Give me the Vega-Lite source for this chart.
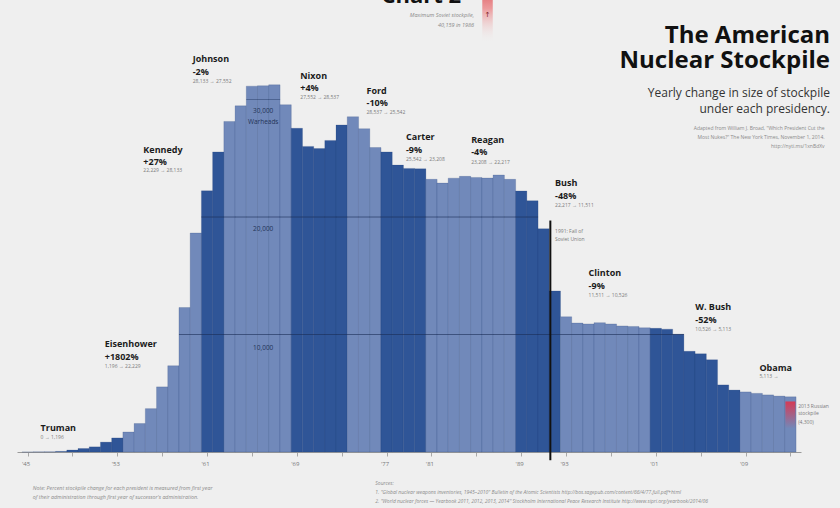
{
  "$schema": "https://vega.github.io/schema/vega-lite/v6.json",
  "width": 784,
  "height": 452,
  "autosize": {"type": "none"},
  "padding": {"left": 17, "top": 0, "right": 39, "bottom": 56},
  "background": "#efefef",
  "config": {"view": {"stroke": null}, "font": "Open Sans"},
  "title": {
    "text": ["The American", "Nuclear Stockpile"],
    "subtitle": ["Yearly change in size of stockpile", "under each presidency."],
    "anchor": "end",
    "frame": "group",
    "orient": "top",
    "align": "right",
    "dx": 29,
    "dy": 135,
    "offset": 0,
    "font": "Open Sans",
    "fontSize": 24,
    "fontWeight": "bold",
    "color": "#111111",
    "lineHeight": 25,
    "subtitleFont": "Open Sans",
    "subtitleFontSize": 12,
    "subtitleColor": "#333333",
    "subtitleLineHeight": 16,
    "subtitlePadding": 15
  },
  "datasets": {
    "stock": [
      {"year": 1945, "president": "Truman", "value": 2},
      {"year": 1946, "president": "Truman", "value": 9},
      {"year": 1947, "president": "Truman", "value": 13},
      {"year": 1948, "president": "Truman", "value": 50},
      {"year": 1949, "president": "Truman", "value": 170},
      {"year": 1950, "president": "Truman", "value": 299},
      {"year": 1951, "president": "Truman", "value": 438},
      {"year": 1952, "president": "Truman", "value": 841},
      {"year": 1953, "president": "Truman", "value": 1196},
      {"year": 1954, "president": "Eisenhower", "value": 1703},
      {"year": 1955, "president": "Eisenhower", "value": 2422},
      {"year": 1956, "president": "Eisenhower", "value": 3692},
      {"year": 1957, "president": "Eisenhower", "value": 5543},
      {"year": 1958, "president": "Eisenhower", "value": 7345},
      {"year": 1959, "president": "Eisenhower", "value": 12298},
      {"year": 1960, "president": "Eisenhower", "value": 18638},
      {"year": 1961, "president": "Kennedy", "value": 22229},
      {"year": 1962, "president": "Kennedy", "value": 25540},
      {"year": 1963, "president": "Johnson", "value": 28133},
      {"year": 1964, "president": "Johnson", "value": 29463},
      {"year": 1965, "president": "Johnson", "value": 31139},
      {"year": 1966, "president": "Johnson", "value": 31175},
      {"year": 1967, "president": "Johnson", "value": 31255},
      {"year": 1968, "president": "Johnson", "value": 29561},
      {"year": 1969, "president": "Nixon", "value": 27552},
      {"year": 1970, "president": "Nixon", "value": 26008},
      {"year": 1971, "president": "Nixon", "value": 25830},
      {"year": 1972, "president": "Nixon", "value": 26516},
      {"year": 1973, "president": "Nixon", "value": 27835},
      {"year": 1974, "president": "Ford", "value": 28537},
      {"year": 1975, "president": "Ford", "value": 27519},
      {"year": 1976, "president": "Ford", "value": 25914},
      {"year": 1977, "president": "Carter", "value": 25542},
      {"year": 1978, "president": "Carter", "value": 24418},
      {"year": 1979, "president": "Carter", "value": 24138},
      {"year": 1980, "president": "Carter", "value": 24104},
      {"year": 1981, "president": "Reagan", "value": 23208},
      {"year": 1982, "president": "Reagan", "value": 22886},
      {"year": 1983, "president": "Reagan", "value": 23305},
      {"year": 1984, "president": "Reagan", "value": 23459},
      {"year": 1985, "president": "Reagan", "value": 23368},
      {"year": 1986, "president": "Reagan", "value": 23317},
      {"year": 1987, "president": "Reagan", "value": 23575},
      {"year": 1988, "president": "Reagan", "value": 23205},
      {"year": 1989, "president": "Bush", "value": 22217},
      {"year": 1990, "president": "Bush", "value": 21392},
      {"year": 1991, "president": "Bush", "value": 19008},
      {"year": 1992, "president": "Bush", "value": 13708},
      {"year": 1993, "president": "Clinton", "value": 11511},
      {"year": 1994, "president": "Clinton", "value": 10979},
      {"year": 1995, "president": "Clinton", "value": 10904},
      {"year": 1996, "president": "Clinton", "value": 11011},
      {"year": 1997, "president": "Clinton", "value": 10903},
      {"year": 1998, "president": "Clinton", "value": 10732},
      {"year": 1999, "president": "Clinton", "value": 10685},
      {"year": 2000, "president": "Clinton", "value": 10577},
      {"year": 2001, "president": "W. Bush", "value": 10526},
      {"year": 2002, "president": "W. Bush", "value": 10457},
      {"year": 2003, "president": "W. Bush", "value": 10027},
      {"year": 2004, "president": "W. Bush", "value": 8570},
      {"year": 2005, "president": "W. Bush", "value": 8360},
      {"year": 2006, "president": "W. Bush", "value": 7853},
      {"year": 2007, "president": "W. Bush", "value": 5709},
      {"year": 2008, "president": "W. Bush", "value": 5273},
      {"year": 2009, "president": "Obama", "value": 5113},
      {"year": 2010, "president": "Obama", "value": 4990},
      {"year": 2011, "president": "Obama", "value": 4860},
      {"year": 2012, "president": "Obama", "value": 4760},
      {"year": 2013, "president": "Obama", "value": 4700}
    ],
    "extra": [
      {"kind": "soviet", "year": 1986, "value": 40159},
      {"kind": "russia", "year": 2013, "value": 4300}
    ],
    "notes": [
      {"kind": "name", "text": "Truman", "year": 1946.16, "level": 2043},
      {"kind": "range", "text": "0 → 1,196", "year": 1946.16, "level": 1277},
      {"kind": "name", "text": "Eisenhower", "year": 1951.88, "level": 9191},
      {"kind": "name", "text": "+1802%", "year": 1951.88, "level": 8085},
      {"kind": "range", "text": "1,196 → 22,229", "year": 1951.88, "level": 7319},
      {"kind": "name", "text": "Kennedy", "year": 1955.32, "level": 25745},
      {"kind": "name", "text": "+27%", "year": 1955.32, "level": 24723},
      {"kind": "range", "text": "22,229 → 28,133", "year": 1955.32, "level": 23960},
      {"kind": "name", "text": "Johnson", "year": 1959.72, "level": 33447},
      {"kind": "name", "text": "-2%", "year": 1959.72, "level": 32340},
      {"kind": "range", "text": "28,133 → 27,552", "year": 1959.72, "level": 31574},
      {"kind": "name", "text": "Nixon", "year": 1969.31, "level": 32043},
      {"kind": "name", "text": "+4%", "year": 1969.31, "level": 31021},
      {"kind": "range", "text": "27,552 → 28,537", "year": 1969.31, "level": 30213},
      {"kind": "name", "text": "Ford", "year": 1975.21, "level": 30723},
      {"kind": "name", "text": "-10%", "year": 1975.21, "level": 29702},
      {"kind": "range", "text": "28,537 → 25,542", "year": 1975.21, "level": 28936},
      {"kind": "name", "text": "Carter", "year": 1978.73, "level": 26809},
      {"kind": "name", "text": "-9%", "year": 1978.73, "level": 25702},
      {"kind": "range", "text": "25,542 → 23,208", "year": 1978.73, "level": 24936},
      {"kind": "name", "text": "Reagan", "year": 1984.54, "level": 26553},
      {"kind": "name", "text": "-4%", "year": 1984.54, "level": 25532},
      {"kind": "range", "text": "23,208 → 22,217", "year": 1984.54, "level": 24681},
      {"kind": "name", "text": "Bush", "year": 1992.02, "level": 22894},
      {"kind": "name", "text": "-48%", "year": 1992.02, "level": 21787},
      {"kind": "range", "text": "22,217 → 11,511", "year": 1992.02, "level": 21021},
      {"kind": "range", "text": "1991: Fall of", "year": 1992.02, "level": 18809},
      {"kind": "range", "text": "Soviet Union", "year": 1992.02, "level": 18128},
      {"kind": "name", "text": "Clinton", "year": 1995.01, "level": 15234},
      {"kind": "name", "text": "-9%", "year": 1995.01, "level": 14128},
      {"kind": "range", "text": "11,511 → 10,526", "year": 1995.01, "level": 13362},
      {"kind": "name", "text": "W. Bush", "year": 2004.52, "level": 12340},
      {"kind": "name", "text": "-52%", "year": 2004.52, "level": 11234},
      {"kind": "range", "text": "10,526 → 5,113", "year": 2004.52, "level": 10468},
      {"kind": "name", "text": "Obama", "year": 2010.24, "level": 7149},
      {"kind": "range", "text": "5,113 →", "year": 2010.24, "level": 6468},
      {"kind": "range", "text": "2013 Russian", "year": 2013.69, "level": 3915},
      {"kind": "range", "text": "stockpile", "year": 2013.69, "level": 3319},
      {"kind": "range", "text": "(4,300)", "year": 2013.69, "level": 2553},
      {"kind": "grid", "text": "30,000", "year": 1966, "level": 29021},
      {"kind": "grid", "text": "Warheads", "year": 1966, "level": 28100},
      {"kind": "grid", "text": "20,000", "year": 1966, "level": 18979},
      {"kind": "grid", "text": "10,000", "year": 1966, "level": 8851},
      {"kind": "soviettext", "text": "Maximum Soviet stockpile,", "year": 1984.8, "level": 37191},
      {"kind": "soviettext", "text": "40,159 in 1986", "year": 1984.8, "level": 36340},
      {"kind": "arrow", "text": "↑", "year": 1986, "level": 37191},
      {"kind": "chart", "text": "Chart 2", "year": 1980.1, "level": 38213},
      {"kind": "credit", "text": "Adapted from William J. Broad, \"Which President Cut the", "year": 2016.05, "level": 27574},
      {"kind": "credit", "text": "Most Nukes?\" The New York Times, November 1, 2014.", "year": 2016.05, "level": 26809},
      {"kind": "credit", "text": "http://nyti.ms/1xnBdXv", "year": 2016.05, "level": 26043},
      {"kind": "note", "text": "Note: Percent stockpile change for each president is measured from first year", "year": 1945.46, "level": -3064},
      {"kind": "note", "text": "of their administration through first year of successor's administration.", "year": 1945.46, "level": -3830},
      {"kind": "source", "text": "Sources:", "year": 1976.0, "level": -2638},
      {"kind": "source", "text": "1.   \"Global nuclear weapons inventories, 1945–2010\" Bulletin of the Atomic Scientists http://bos.sagepub.com/content/66/4/77.full.pdf+html", "year": 1976.0, "level": -3404},
      {"kind": "source", "text": "2.   \"World nuclear forces — Yearbook 2011, 2012, 2013, 2014\" Stockholm International Peace Research Institute http://www.sipri.org/yearbook/2014/06", "year": 1976.0, "level": -4170}
    ]
  },
  "layer": [
    {
      "data": {"name": "stock"},
      "mark": {"type": "bar", "width": 11.37, "stroke": "#1c3a70", "strokeWidth": 0.6, "strokeOpacity": 0.3},
      "encoding": {
        "x": {
          "field": "year",
          "type": "quantitative",
          "scale": {"domain": [1944.5, 2013.5], "nice": false, "zero": false},
          "axis": {
            "title": null,
            "grid": false,
            "values": [1945,1946,1947,1948,1949,1950,1951,1952,1953,1954,1955,1956,1957,1958,1959,1960,1961,1962,1963,1964,1965,1966,1967,1968,1969,1970,1971,1972,1973,1974,1975,1976,1977,1978,1979,1980,1981,1982,1983,1984,1985,1986,1987,1988,1989,1990,1991,1992,1993,1994,1995,1996,1997,1998,1999,2000,2001,2002,2003,2004,2005,2006,2007,2008,2009,2010,2011,2012,2013],
            "labelExpr": "indexof([1945,1953,1961,1963,1969,1974,1977,1981,1989,1993,2001,2009], datum.value) >= 0 ? \"'\" + slice(toString(datum.value), 2) : ''",
            "labelOverlap": false,
            "labelFlush": false,
            "labelOffset": -2,
            "labelFontSize": 6,
            "labelColor": "#777777",
            "labelPadding": 4,
            "domainColor": "#9a9a9a",
            "tickColor": "#a8a8a8",
            "tickSize": 4
          }
        },
        "y": {
          "field": "value",
          "type": "quantitative",
          "scale": {"domain": [0, 38470], "nice": false},
          "axis": null
        },
        "color": {
          "field": "president",
          "type": "nominal",
          "scale": {
            "domain": ["Truman","Eisenhower","Kennedy","Johnson","Nixon","Ford","Carter","Reagan","Bush","Clinton","W. Bush","Obama"],
            "range": ["#2f5597","#7189ba","#2f5597","#7189ba","#2f5597","#7189ba","#2f5597","#7189ba","#2f5597","#7189ba","#2f5597","#7189ba"]
          },
          "legend": null
        }
      }
    },
    {
      "data": {"name": "stock"},
      "transform": [{"filter": "datum.value >= 10000"}],
      "mark": {"type": "tick", "orient": "horizontal", "size": 11.4, "thickness": 1, "color": "#1a2d57", "opacity": 0.6},
      "encoding": {
        "x": {"field": "year", "type": "quantitative"},
        "y": {"datum": 10000}
      }
    },
    {
      "data": {"name": "stock"},
      "transform": [{"filter": "datum.value >= 20000"}],
      "mark": {"type": "tick", "orient": "horizontal", "size": 11.4, "thickness": 1, "color": "#1a2d57", "opacity": 0.6},
      "encoding": {
        "x": {"field": "year", "type": "quantitative"},
        "y": {"datum": 20000}
      }
    },
    {
      "data": {"name": "stock"},
      "transform": [{"filter": "datum.value >= 30000"}],
      "mark": {"type": "tick", "orient": "horizontal", "size": 11.4, "thickness": 1, "color": "#1a2d57", "opacity": 0.4},
      "encoding": {
        "x": {"field": "year", "type": "quantitative"},
        "y": {"datum": 30000}
      }
    },
    {
      "data": {"name": "extra"},
      "transform": [{"filter": "datum.kind === 'soviet'"}],
      "mark": {
        "type": "bar",
        "width": 10.5,
        "color": {"gradient": "linear", "x1": 0, "y1": 0, "x2": 0, "y2": 1, "stops": [{"offset": 0, "color": "#d9484f"}, {"offset": 0.45, "color": "#ec9a9c"}, {"offset": 1, "color": "rgba(239,239,239,0)"}]}
      },
      "encoding": {
        "x": {"field": "year", "type": "quantitative"},
        "y": {"field": "value", "type": "quantitative"},
        "y2": {"datum": 34800}
      }
    },
    {
      "data": {"name": "extra"},
      "transform": [{"filter": "datum.kind === 'russia'"}],
      "mark": {
        "type": "bar",
        "width": 10,
        "color": {"gradient": "linear", "x1": 0, "y1": 0, "x2": 0, "y2": 1, "stops": [{"offset": 0, "color": "#d63a55"}, {"offset": 1, "color": "rgba(214,58,85,0)"}]}
      },
      "encoding": {
        "x": {"field": "year", "type": "quantitative"},
        "y": {"field": "value", "type": "quantitative"},
        "y2": {"datum": 2000}
      }
    },
    {
      "data": {"values": [{"event": "1991: Fall of Soviet Union", "year": 1991.6}]},
      "mark": {"type": "rule", "color": "#111111", "strokeWidth": 2},
      "encoding": {
        "x": {"field": "year", "type": "quantitative"},
        "y": {"datum": 19700},
        "y2": {"datum": -700}
      }
    },
    {
      "data": {"name": "notes"},
      "transform": [{"filter": "datum.kind === 'name'"}],
      "mark": {"type": "text", "align": "left", "baseline": "middle", "font": "Open Sans", "fontSize": 9, "fontWeight": "bold", "color": "#1b1b1b"},
      "encoding": {
        "x": {"field": "year", "type": "quantitative"},
        "y": {"field": "level", "type": "quantitative"},
        "text": {"field": "text"}
      }
    },
    {
      "data": {"name": "notes"},
      "transform": [{"filter": "datum.kind === 'range'"}],
      "mark": {"type": "text", "align": "left", "baseline": "middle", "font": "Open Sans", "fontSize": 5, "color": "#7a7a7a"},
      "encoding": {
        "x": {"field": "year", "type": "quantitative"},
        "y": {"field": "level", "type": "quantitative"},
        "text": {"field": "text"}
      }
    },
    {
      "data": {"name": "notes"},
      "transform": [{"filter": "datum.kind === 'grid'"}],
      "mark": {"type": "text", "align": "center", "baseline": "middle", "font": "Open Sans", "fontSize": 6.5, "color": "#243457"},
      "encoding": {
        "x": {"field": "year", "type": "quantitative"},
        "y": {"field": "level", "type": "quantitative"},
        "text": {"field": "text"}
      }
    },
    {
      "data": {"name": "notes"},
      "transform": [{"filter": "datum.kind === 'soviettext'"}],
      "mark": {"type": "text", "align": "right", "baseline": "middle", "font": "Open Sans", "fontSize": 5.5, "fontStyle": "italic", "color": "#8a8a8a"},
      "encoding": {
        "x": {"field": "year", "type": "quantitative"},
        "y": {"field": "level", "type": "quantitative"},
        "text": {"field": "text"}
      }
    },
    {
      "data": {"name": "notes"},
      "transform": [{"filter": "datum.kind === 'arrow'"}],
      "mark": {"type": "text", "align": "center", "baseline": "middle", "font": "DejaVu Sans", "fontSize": 7, "color": "#7a1a1a"},
      "encoding": {
        "x": {"field": "year", "type": "quantitative"},
        "y": {"field": "level", "type": "quantitative"},
        "text": {"field": "text"}
      }
    },
    {
      "data": {"name": "notes"},
      "transform": [{"filter": "datum.kind === 'chart'"}],
      "mark": {"type": "text", "align": "center", "baseline": "alphabetic", "font": "Open Sans", "fontSize": 22, "fontWeight": "bold", "color": "#111111"},
      "encoding": {
        "x": {"field": "year", "type": "quantitative"},
        "y": {"field": "level", "type": "quantitative"},
        "text": {"field": "text"}
      }
    },
    {
      "data": {"name": "notes"},
      "transform": [{"filter": "datum.kind === 'credit'"}],
      "mark": {"type": "text", "align": "right", "baseline": "middle", "font": "Open Sans", "fontSize": 5, "color": "#8a8a8a"},
      "encoding": {
        "x": {"field": "year", "type": "quantitative"},
        "y": {"field": "level", "type": "quantitative"},
        "text": {"field": "text"}
      }
    },
    {
      "data": {"name": "notes"},
      "transform": [{"filter": "datum.kind === 'note'"}],
      "mark": {"type": "text", "align": "left", "baseline": "middle", "font": "Open Sans", "fontSize": 5.3, "fontStyle": "italic", "color": "#8a8a8a"},
      "encoding": {
        "x": {"field": "year", "type": "quantitative"},
        "y": {"field": "level", "type": "quantitative"},
        "text": {"field": "text"}
      }
    },
    {
      "data": {"name": "notes"},
      "transform": [{"filter": "datum.kind === 'source'"}],
      "mark": {"type": "text", "align": "left", "baseline": "middle", "font": "Open Sans", "fontSize": 5, "fontStyle": "italic", "color": "#8a8a8a"},
      "encoding": {
        "x": {"field": "year", "type": "quantitative"},
        "y": {"field": "level", "type": "quantitative"},
        "text": {"field": "text"}
      }
    }
  ]
}
